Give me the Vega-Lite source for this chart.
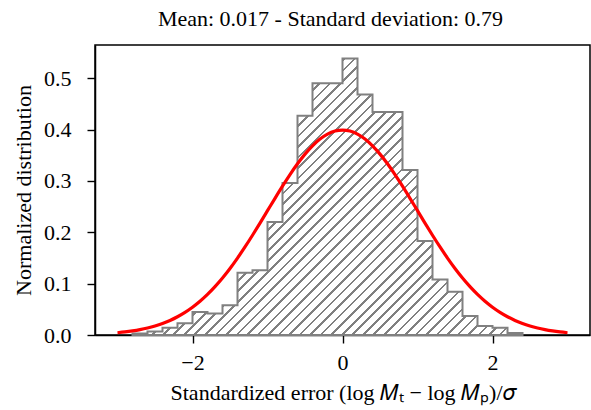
{
"$schema":"https://vega.github.io/schema/vega-lite/v6.json",
"width":495,"height":290,
"autosize":{"type":"none"},
"padding":{"left":95,"top":45,"right":1,"bottom":75},
"background":"white",
"title":{"text":"Mean: 0.017 - Standard deviation: 0.79","font":"Liberation Serif","fontSize":22,"fontWeight":"normal","color":"black","anchor":"middle","dx":-12,"offset":14},
"datasets":{
"hist":[
{"start":-2.8,"end":-2.6,"density":0.003},
{"start":-2.6,"end":-2.4,"density":0.007},
{"start":-2.4,"end":-2.2,"density":0.014},
{"start":-2.2,"end":-2.0,"density":0.023},
{"start":-2.0,"end":-1.8,"density":0.045},
{"start":-1.8,"end":-1.6,"density":0.042},
{"start":-1.6,"end":-1.4,"density":0.058},
{"start":-1.4,"end":-1.2,"density":0.121},
{"start":-1.2,"end":-1.0,"density":0.126},
{"start":-1.0,"end":-0.8,"density":0.220},
{"start":-0.8,"end":-0.6,"density":0.296},
{"start":-0.6,"end":-0.4,"density":0.427},
{"start":-0.4,"end":-0.2,"density":0.490},
{"start":-0.2,"end":0.0,"density":0.490},
{"start":0.0,"end":0.2,"density":0.538},
{"start":0.2,"end":0.4,"density":0.468},
{"start":0.4,"end":0.6,"density":0.434},
{"start":0.6,"end":0.8,"density":0.434},
{"start":0.8,"end":1.0,"density":0.321},
{"start":1.0,"end":1.2,"density":0.183},
{"start":1.2,"end":1.4,"density":0.108},
{"start":1.4,"end":1.6,"density":0.084},
{"start":1.6,"end":1.8,"density":0.037},
{"start":1.8,"end":2.0,"density":0.0175},
{"start":2.0,"end":2.2,"density":0.014},
{"start":2.2,"end":2.4,"density":0.004}
],
"curve":[
{"x":-3.0,"pdf":0.00443},{"x":-2.9,"pdf":0.00595},{"x":-2.8,"pdf":0.00792},{"x":-2.7,"pdf":0.01042},{"x":-2.6,"pdf":0.01358},{"x":-2.5,"pdf":0.01753},{"x":-2.4,"pdf":0.02239},{"x":-2.3,"pdf":0.02833},{"x":-2.2,"pdf":0.03547},{"x":-2.1,"pdf":0.04398},{"x":-2.0,"pdf":0.05399},{"x":-1.9,"pdf":0.06562},{"x":-1.8,"pdf":0.07895},{"x":-1.7,"pdf":0.09405},{"x":-1.6,"pdf":0.11092},{"x":-1.5,"pdf":0.12952},{"x":-1.4,"pdf":0.14973},{"x":-1.3,"pdf":0.17137},{"x":-1.2,"pdf":0.19419},{"x":-1.1,"pdf":0.21785},{"x":-1.0,"pdf":0.24197},{"x":-0.9,"pdf":0.26609},{"x":-0.8,"pdf":0.28969},{"x":-0.7,"pdf":0.31225},{"x":-0.6,"pdf":0.33322},{"x":-0.5,"pdf":0.35207},{"x":-0.4,"pdf":0.36827},{"x":-0.3,"pdf":0.38139},{"x":-0.2,"pdf":0.39104},{"x":-0.1,"pdf":0.39695},
{"x":0.0,"pdf":0.39894},
{"x":0.1,"pdf":0.39695},{"x":0.2,"pdf":0.39104},{"x":0.3,"pdf":0.38139},{"x":0.4,"pdf":0.36827},{"x":0.5,"pdf":0.35207},{"x":0.6,"pdf":0.33322},{"x":0.7,"pdf":0.31225},{"x":0.8,"pdf":0.28969},{"x":0.9,"pdf":0.26609},{"x":1.0,"pdf":0.24197},{"x":1.1,"pdf":0.21785},{"x":1.2,"pdf":0.19419},{"x":1.3,"pdf":0.17137},{"x":1.4,"pdf":0.14973},{"x":1.5,"pdf":0.12952},{"x":1.6,"pdf":0.11092},{"x":1.7,"pdf":0.09405},{"x":1.8,"pdf":0.07895},{"x":1.9,"pdf":0.06562},{"x":2.0,"pdf":0.05399},{"x":2.1,"pdf":0.04398},{"x":2.2,"pdf":0.03547},{"x":2.3,"pdf":0.02833},{"x":2.4,"pdf":0.02239},{"x":2.5,"pdf":0.01753},{"x":2.6,"pdf":0.01358},{"x":2.7,"pdf":0.01042},{"x":2.8,"pdf":0.00792},{"x":2.9,"pdf":0.00595},{"x":3.0,"pdf":0.00443}
]
},
"layer":[
{
"data":{"name":"hist"},
"transform":[
{"fold":["start","end"],"as":["edge","xpos"]}
],
"mark":{"type":"area","interpolate":"linear","stroke":"#808080","strokeWidth":2,"strokeJoin":"miter",
"fill":{"gradient":"linear","x1":0,"y1":0,"x2":1.15,"y2":0.815,"stops":[
{"offset":0,"color":"#808080"},{"offset":0.003906,"color":"#808080"},{"offset":0.003906,"color":"#fff"},{"offset":0.015625,"color":"#fff"},
{"offset":0.015625,"color":"#808080"},{"offset":0.019531,"color":"#808080"},{"offset":0.019531,"color":"#fff"},{"offset":0.03125,"color":"#fff"},
{"offset":0.03125,"color":"#808080"},{"offset":0.035156,"color":"#808080"},{"offset":0.035156,"color":"#fff"},{"offset":0.046875,"color":"#fff"},
{"offset":0.046875,"color":"#808080"},{"offset":0.050781,"color":"#808080"},{"offset":0.050781,"color":"#fff"},{"offset":0.0625,"color":"#fff"},
{"offset":0.0625,"color":"#808080"},{"offset":0.066406,"color":"#808080"},{"offset":0.066406,"color":"#fff"},{"offset":0.078125,"color":"#fff"},
{"offset":0.078125,"color":"#808080"},{"offset":0.082031,"color":"#808080"},{"offset":0.082031,"color":"#fff"},{"offset":0.09375,"color":"#fff"},
{"offset":0.09375,"color":"#808080"},{"offset":0.097656,"color":"#808080"},{"offset":0.097656,"color":"#fff"},{"offset":0.109375,"color":"#fff"},
{"offset":0.109375,"color":"#808080"},{"offset":0.113281,"color":"#808080"},{"offset":0.113281,"color":"#fff"},{"offset":0.125,"color":"#fff"},
{"offset":0.125,"color":"#808080"},{"offset":0.128906,"color":"#808080"},{"offset":0.128906,"color":"#fff"},{"offset":0.140625,"color":"#fff"},
{"offset":0.140625,"color":"#808080"},{"offset":0.144531,"color":"#808080"},{"offset":0.144531,"color":"#fff"},{"offset":0.15625,"color":"#fff"},
{"offset":0.15625,"color":"#808080"},{"offset":0.160156,"color":"#808080"},{"offset":0.160156,"color":"#fff"},{"offset":0.171875,"color":"#fff"},
{"offset":0.171875,"color":"#808080"},{"offset":0.175781,"color":"#808080"},{"offset":0.175781,"color":"#fff"},{"offset":0.1875,"color":"#fff"},
{"offset":0.1875,"color":"#808080"},{"offset":0.191406,"color":"#808080"},{"offset":0.191406,"color":"#fff"},{"offset":0.203125,"color":"#fff"},
{"offset":0.203125,"color":"#808080"},{"offset":0.207031,"color":"#808080"},{"offset":0.207031,"color":"#fff"},{"offset":0.21875,"color":"#fff"},
{"offset":0.21875,"color":"#808080"},{"offset":0.222656,"color":"#808080"},{"offset":0.222656,"color":"#fff"},{"offset":0.234375,"color":"#fff"},
{"offset":0.234375,"color":"#808080"},{"offset":0.238281,"color":"#808080"},{"offset":0.238281,"color":"#fff"},{"offset":0.25,"color":"#fff"},
{"offset":0.25,"color":"#808080"},{"offset":0.253906,"color":"#808080"},{"offset":0.253906,"color":"#fff"},{"offset":0.265625,"color":"#fff"},
{"offset":0.265625,"color":"#808080"},{"offset":0.269531,"color":"#808080"},{"offset":0.269531,"color":"#fff"},{"offset":0.28125,"color":"#fff"},
{"offset":0.28125,"color":"#808080"},{"offset":0.285156,"color":"#808080"},{"offset":0.285156,"color":"#fff"},{"offset":0.296875,"color":"#fff"},
{"offset":0.296875,"color":"#808080"},{"offset":0.300781,"color":"#808080"},{"offset":0.300781,"color":"#fff"},{"offset":0.3125,"color":"#fff"},
{"offset":0.3125,"color":"#808080"},{"offset":0.316406,"color":"#808080"},{"offset":0.316406,"color":"#fff"},{"offset":0.328125,"color":"#fff"},
{"offset":0.328125,"color":"#808080"},{"offset":0.332031,"color":"#808080"},{"offset":0.332031,"color":"#fff"},{"offset":0.34375,"color":"#fff"},
{"offset":0.34375,"color":"#808080"},{"offset":0.347656,"color":"#808080"},{"offset":0.347656,"color":"#fff"},{"offset":0.359375,"color":"#fff"},
{"offset":0.359375,"color":"#808080"},{"offset":0.363281,"color":"#808080"},{"offset":0.363281,"color":"#fff"},{"offset":0.375,"color":"#fff"},
{"offset":0.375,"color":"#808080"},{"offset":0.378906,"color":"#808080"},{"offset":0.378906,"color":"#fff"},{"offset":0.390625,"color":"#fff"},
{"offset":0.390625,"color":"#808080"},{"offset":0.394531,"color":"#808080"},{"offset":0.394531,"color":"#fff"},{"offset":0.40625,"color":"#fff"},
{"offset":0.40625,"color":"#808080"},{"offset":0.410156,"color":"#808080"},{"offset":0.410156,"color":"#fff"},{"offset":0.421875,"color":"#fff"},
{"offset":0.421875,"color":"#808080"},{"offset":0.425781,"color":"#808080"},{"offset":0.425781,"color":"#fff"},{"offset":0.4375,"color":"#fff"},
{"offset":0.4375,"color":"#808080"},{"offset":0.441406,"color":"#808080"},{"offset":0.441406,"color":"#fff"},{"offset":0.453125,"color":"#fff"},
{"offset":0.453125,"color":"#808080"},{"offset":0.457031,"color":"#808080"},{"offset":0.457031,"color":"#fff"},{"offset":0.46875,"color":"#fff"},
{"offset":0.46875,"color":"#808080"},{"offset":0.472656,"color":"#808080"},{"offset":0.472656,"color":"#fff"},{"offset":0.484375,"color":"#fff"},
{"offset":0.484375,"color":"#808080"},{"offset":0.488281,"color":"#808080"},{"offset":0.488281,"color":"#fff"},{"offset":0.5,"color":"#fff"},
{"offset":0.5,"color":"#808080"},{"offset":0.503906,"color":"#808080"},{"offset":0.503906,"color":"#fff"},{"offset":0.515625,"color":"#fff"},
{"offset":0.515625,"color":"#808080"},{"offset":0.519531,"color":"#808080"},{"offset":0.519531,"color":"#fff"},{"offset":0.53125,"color":"#fff"},
{"offset":0.53125,"color":"#808080"},{"offset":0.535156,"color":"#808080"},{"offset":0.535156,"color":"#fff"},{"offset":0.546875,"color":"#fff"},
{"offset":0.546875,"color":"#808080"},{"offset":0.550781,"color":"#808080"},{"offset":0.550781,"color":"#fff"},{"offset":0.5625,"color":"#fff"},
{"offset":0.5625,"color":"#808080"},{"offset":0.566406,"color":"#808080"},{"offset":0.566406,"color":"#fff"},{"offset":0.578125,"color":"#fff"},
{"offset":0.578125,"color":"#808080"},{"offset":0.582031,"color":"#808080"},{"offset":0.582031,"color":"#fff"},{"offset":0.59375,"color":"#fff"},
{"offset":0.59375,"color":"#808080"},{"offset":0.597656,"color":"#808080"},{"offset":0.597656,"color":"#fff"},{"offset":0.609375,"color":"#fff"},
{"offset":0.609375,"color":"#808080"},{"offset":0.613281,"color":"#808080"},{"offset":0.613281,"color":"#fff"},{"offset":0.625,"color":"#fff"},
{"offset":0.625,"color":"#808080"},{"offset":0.628906,"color":"#808080"},{"offset":0.628906,"color":"#fff"},{"offset":0.640625,"color":"#fff"},
{"offset":0.640625,"color":"#808080"},{"offset":0.644531,"color":"#808080"},{"offset":0.644531,"color":"#fff"},{"offset":0.65625,"color":"#fff"},
{"offset":0.65625,"color":"#808080"},{"offset":0.660156,"color":"#808080"},{"offset":0.660156,"color":"#fff"},{"offset":0.671875,"color":"#fff"},
{"offset":0.671875,"color":"#808080"},{"offset":0.675781,"color":"#808080"},{"offset":0.675781,"color":"#fff"},{"offset":0.6875,"color":"#fff"},
{"offset":0.6875,"color":"#808080"},{"offset":0.691406,"color":"#808080"},{"offset":0.691406,"color":"#fff"},{"offset":0.703125,"color":"#fff"},
{"offset":0.703125,"color":"#808080"},{"offset":0.707031,"color":"#808080"},{"offset":0.707031,"color":"#fff"},{"offset":0.71875,"color":"#fff"},
{"offset":0.71875,"color":"#808080"},{"offset":0.722656,"color":"#808080"},{"offset":0.722656,"color":"#fff"},{"offset":0.734375,"color":"#fff"},
{"offset":0.734375,"color":"#808080"},{"offset":0.738281,"color":"#808080"},{"offset":0.738281,"color":"#fff"},{"offset":0.75,"color":"#fff"},
{"offset":0.75,"color":"#808080"},{"offset":0.753906,"color":"#808080"},{"offset":0.753906,"color":"#fff"},{"offset":0.765625,"color":"#fff"},
{"offset":0.765625,"color":"#808080"},{"offset":0.769531,"color":"#808080"},{"offset":0.769531,"color":"#fff"},{"offset":0.78125,"color":"#fff"},
{"offset":0.78125,"color":"#808080"},{"offset":0.785156,"color":"#808080"},{"offset":0.785156,"color":"#fff"},{"offset":0.796875,"color":"#fff"},
{"offset":0.796875,"color":"#808080"},{"offset":0.800781,"color":"#808080"},{"offset":0.800781,"color":"#fff"},{"offset":0.8125,"color":"#fff"},
{"offset":0.8125,"color":"#808080"},{"offset":0.816406,"color":"#808080"},{"offset":0.816406,"color":"#fff"},{"offset":0.828125,"color":"#fff"},
{"offset":0.828125,"color":"#808080"},{"offset":0.832031,"color":"#808080"},{"offset":0.832031,"color":"#fff"},{"offset":0.84375,"color":"#fff"},
{"offset":0.84375,"color":"#808080"},{"offset":0.847656,"color":"#808080"},{"offset":0.847656,"color":"#fff"},{"offset":0.859375,"color":"#fff"},
{"offset":0.859375,"color":"#808080"},{"offset":0.863281,"color":"#808080"},{"offset":0.863281,"color":"#fff"},{"offset":0.875,"color":"#fff"},
{"offset":0.875,"color":"#808080"},{"offset":0.878906,"color":"#808080"},{"offset":0.878906,"color":"#fff"},{"offset":0.890625,"color":"#fff"},
{"offset":0.890625,"color":"#808080"},{"offset":0.894531,"color":"#808080"},{"offset":0.894531,"color":"#fff"},{"offset":0.90625,"color":"#fff"},
{"offset":0.90625,"color":"#808080"},{"offset":0.910156,"color":"#808080"},{"offset":0.910156,"color":"#fff"},{"offset":0.921875,"color":"#fff"},
{"offset":0.921875,"color":"#808080"},{"offset":0.925781,"color":"#808080"},{"offset":0.925781,"color":"#fff"},{"offset":0.9375,"color":"#fff"},
{"offset":0.9375,"color":"#808080"},{"offset":0.941406,"color":"#808080"},{"offset":0.941406,"color":"#fff"},{"offset":0.953125,"color":"#fff"},
{"offset":0.953125,"color":"#808080"},{"offset":0.957031,"color":"#808080"},{"offset":0.957031,"color":"#fff"},{"offset":0.96875,"color":"#fff"},
{"offset":0.96875,"color":"#808080"},{"offset":0.972656,"color":"#808080"},{"offset":0.972656,"color":"#fff"},{"offset":0.984375,"color":"#fff"},
{"offset":0.984375,"color":"#808080"},{"offset":0.988281,"color":"#808080"},{"offset":0.988281,"color":"#fff"},{"offset":1,"color":"#fff"}
]}},
"encoding":{
"x":{"field":"xpos","type":"quantitative","scale":{"domain":[-3.3,3.3],"nice":false,"zero":false},
"axis":{"values":[-2,0,2],"format":"d","title":"Standardized error (log 𝑀ₜ − log 𝑀ₚ)/𝜎"}},
"y":{"field":"density","type":"quantitative","stack":null,"scale":{"domain":[0,0.5645],"nice":false,"zero":false},
"axis":{"values":[0,0.1,0.2,0.3,0.4,0.5],"format":".1f","title":"Normalized distribution"}}
}
},
{
"data":{"name":"curve"},
"mark":{"type":"line","color":"#ff0000","strokeWidth":3.2,"interpolate":"monotone"},
"encoding":{
"x":{"field":"x","type":"quantitative"},
"y":{"field":"pdf","type":"quantitative"}
}
}
],
"config":{
"view":{"stroke":"black","strokeWidth":1.5},
"axis":{"grid":false,"domainColor":"black","domainWidth":1.5,"tickColor":"black","tickWidth":1.4,"tickSize":8,
"labelFont":"Liberation Serif","labelFontSize":22,"labelColor":"black","titleFont":"Liberation Serif","titleFontSize":22,"titleFontWeight":"normal","titleColor":"black","zindex":1},
"axisX":{"labelPadding":9,"titlePadding":9},
"axisY":{"labelPadding":16,"titlePadding":8}
}
}
